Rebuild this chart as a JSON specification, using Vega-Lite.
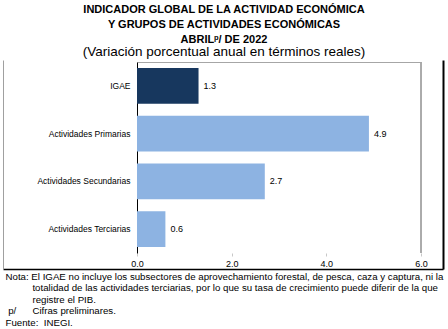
{
  "$schema": "https://vega.github.io/schema/vega-lite/v6.json",
  "width": 284,
  "height": 191,
  "autosize": {"type": "none"},
  "padding": {"left": 137, "top": 62, "right": 27, "bottom": 76},
  "background": "white",
  "config": {"view": {"stroke": null}, "font": "Liberation Sans"},
  "title": {
    "text": ["INDICADOR GLOBAL DE LA ACTIVIDAD ECONÓMICA", "Y GRUPOS DE ACTIVIDADES ECONÓMICAS", "ABRILᵖ/ DE 2022"],
    "subtitle": "(Variación porcentual anual en términos reales)",
    "anchor": "middle",
    "frame": "group",
    "dx": -55,
    "offset": 3,
    "font": "Liberation Sans",
    "fontSize": 11,
    "fontWeight": "bold",
    "lineHeight": 15,
    "color": "#000000",
    "subtitleFont": "Liberation Sans",
    "subtitleFontSize": 13.5,
    "subtitleColor": "#000000",
    "subtitlePadding": 0
  },
  "datasets": {
    "d": [
      {"cat": "IGAE", "v": 1.3, "grp": "IGAE"},
      {"cat": "Actividades  Primarias", "v": 4.9, "grp": "Grupo"},
      {"cat": "Actividades Secundarias", "v": 2.7, "grp": "Grupo"},
      {"cat": "Actividades Terciarias", "v": 0.6, "grp": "Grupo"}
    ]
  },
  "layer": [
    {
      "data": {"name": "d"},
      "layer": [
        {
          "mark": {"type": "bar"},
          "encoding": {
            "y": {
              "field": "cat", "type": "nominal", "sort": null,
              "scale": {"paddingInner": 0.25, "paddingOuter": 0.125},
              "axis": {"orient": "left", "title": null, "ticks": false, "labelPadding": 7, "labelFontSize": 8.5, "labelColor": "#000000", "labelFont": "Liberation Sans", "domainColor": "#000000", "domainWidth": 1, "labelLimit": 200}
            },
            "x": {
              "field": "v", "type": "quantitative",
              "scale": {"domain": [0, 6]},
              "axis": {
                "orient": "bottom", "offset": 0, "values": [0, 2, 4, 6], "format": ".1f", "grid": false, "labelFlush": false,
                "domain": false,
                "tickColor": "#c8c8c8", "tickSize": 3, "labelPadding": 3, "labelFontSize": 9, "labelColor": "#000000", "labelFont": "Liberation Sans",
                "title": [
                  "Nota: El IGAE no incluye los subsectores de aprovechamiento forestal, de pesca, caza y captura, ni la",
                  "\u200b\u00a0\u00a0\u00a0\u00a0\u00a0\u00a0\u00a0\u00a0\u00a0\u00a0totalidad de las actividades terciarias, por lo que su tasa de crecimiento puede diferir de la que",
                  "\u200b\u00a0\u00a0\u00a0\u00a0\u00a0\u00a0\u00a0\u00a0\u00a0\u00a0registre el PIB.",
                  "\u200b\u00a0p/\u00a0\u00a0\u00a0\u00a0\u00a0\u00a0Cifras preliminares.",
                  "Fuente:\u00a0\u00a0INEGI."
                ],
                "titleFont": "Liberation Sans", "titleFontSize": 9.7, "titleFontWeight": "normal", "titleColor": "#000000",
                "titleAlign": "left", "titleAnchor": "start", "titleBaseline": "top",
                "titleX": -132, "titleY": 18, "titleLineHeight": 11.6
              }
            },
            "color": {"field": "grp", "type": "nominal", "scale": {"domain": ["IGAE", "Grupo"], "range": ["#17375e", "#8db3e2"]}, "legend": null}
          }
        },
        {
          "mark": {"type": "text", "align": "left", "baseline": "middle", "dx": 5, "fontSize": 9, "font": "Liberation Sans", "color": "#000000"},
          "encoding": {
            "y": {"field": "cat", "type": "nominal", "sort": null},
            "x": {"field": "v", "type": "quantitative", "axis": null},
            "text": {"field": "v", "type": "quantitative", "format": ".1f"}
          }
        },
        {
          "mark": {"type": "rule", "color": "#a6a6a6", "strokeWidth": 1},
          "encoding": {
            "x": {"datum": 6, "type": "quantitative", "axis": {"orient": "top", "labels": false, "ticks": false, "grid": false, "title": null, "domainColor": "#a6a6a6"}}
          }
        }
      ],
      "resolve": {"axis": {"x": "independent"}}
    },
    {
      "data": {"name": "d"},
      "mark": {"type": "rule", "opacity": 0},
      "encoding": {
        "y": {"field": "cat", "type": "nominal", "sort": null, "scale": {"range": [-2, 207]},
          "axis": {"orient": "right", "offset": 22, "labels": false, "ticks": false, "grid": false, "title": null, "domainColor": "#000000", "domainWidth": 2}}
      }
    },
    {
      "data": {"name": "d"},
      "mark": {"type": "rule", "opacity": 0},
      "encoding": {
        "y": {"field": "cat", "type": "nominal", "sort": null, "scale": {"range": [-2, 207]},
          "axis": {"orient": "left", "offset": 134, "labels": false, "ticks": false, "grid": false, "title": null, "domainColor": "#a0a0a0", "domainWidth": 1}}
      }
    },
    {
      "data": {"name": "d"},
      "mark": {"type": "rule", "opacity": 0},
      "encoding": {
        "x": {"field": "v", "type": "quantitative", "scale": {"range": [-134, 306]},
          "axis": {"orient": "bottom", "offset": 16, "labels": false, "ticks": false, "grid": false, "title": null, "domainColor": "#000000", "domainWidth": 1.5}}
      }
    }
  ],
  "resolve": {"scale": {"x": "independent", "y": "independent"}, "axis": {"x": "independent", "y": "independent"}}
}
